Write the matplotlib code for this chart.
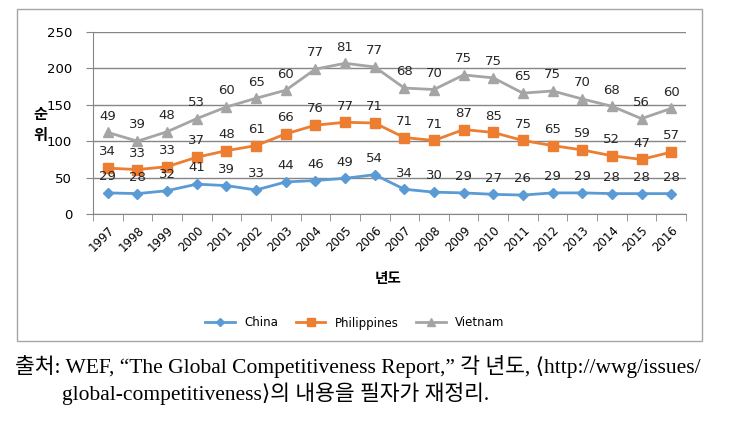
import numpy as np
import matplotlib
matplotlib.use('Agg')
import matplotlib.pyplot as plt
from matplotlib.patches import Rectangle

years = [str(y) for y in range(1997, 2017)]
china = [29, 28, 32, 41, 39, 33, 44, 46, 49, 54, 34, 30, 29, 27, 26, 29, 29, 28, 28, 28]
philippines = [34, 33, 33, 37, 48, 61, 66, 76, 77, 71, 71, 71, 87, 85, 75, 65, 59, 52, 47, 57]
vietnam = [49, 39, 48, 53, 60, 65, 60, 77, 81, 77, 68, 70, 75, 75, 65, 75, 70, 68, 56, 60]

plt.rcParams['font.family'] = ['DejaVu Sans', 'Noto Sans CJK KR']

fig = plt.figure(figsize=(7.35, 4.22), dpi=100)
fig.patches.append(Rectangle((17 / 735, 1 - 341 / 422), 685 / 735, 332 / 422,
                             transform=fig.transFigure, fill=False,
                             edgecolor='#a6a6a6', linewidth=1))

ax = fig.add_axes([93 / 735, 1 - 214 / 422, 593 / 735, 182 / 422])

x = np.arange(len(years))
s1 = np.array(china)
s2 = s1 + np.array(philippines)
s3 = s2 + np.array(vietnam)

series = [
    ('China', china, s1, '#5b9bd5', 'D', 5),
    ('Philippines', philippines, s2, '#ed7d31', 's', 7),
    ('Vietnam', vietnam, s3, '#a5a5a5', '^', 7),
]
for name, vals, ys, col, mk, ms in series:
    ax.plot(x, ys, color=col, marker=mk, markersize=ms, linewidth=2, label=name, zorder=3)
    for xi, yi, v in zip(x, ys, vals):
        ax.annotate(str(v), (xi, yi), xytext=(0, 7), textcoords='offset points',
                    ha='center', va='bottom', fontsize=9.5, color='#262626', zorder=4)

ax.set_xlim(-0.5, len(years) - 0.5)
ax.set_ylim(0, 250)
ax.set_yticks(range(0, 251, 50))
ax.yaxis.grid(True, color='#868686', linewidth=1)
ax.set_axisbelow(True)
ax.set_xticks(x)
ax.set_xticklabels(years, rotation=45, ha='right', rotation_mode='anchor', fontsize=8.5)
ax.set_xticks(np.arange(-0.5, len(years), 1), minor=True)
ax.tick_params(axis='x', which='major', length=0, pad=7)
ax.tick_params(axis='x', which='minor', length=5, color='#868686')
ax.tick_params(axis='y', length=5, color='#868686', labelsize=9.5, pad=10)
for sp in ['top', 'right']:
    ax.spines[sp].set_visible(False)
for sp in ['left', 'bottom']:
    ax.spines[sp].set_color('#868686')

fig.text(40 / 735, 1 - 125 / 422, '순\n위', ha='center', va='center',
         fontsize=11, fontweight='bold', linespacing=1.5)
fig.text(388 / 735, 1 - 278 / 422, '년도', ha='center', va='center',
         fontsize=10.5, fontweight='bold')

fig.legend(loc='center', bbox_to_anchor=(355 / 735, 1 - 323 / 422), ncol=3,
           frameon=False, fontsize=8.5, handlelength=2.5, columnspacing=1.5,
           markerscale=0.8)

serif = ['Liberation Serif', 'Noto Sans CJK KR', 'DejaVu Sans']
fig.text(15 / 735, 1 - 367 / 422,
         '출처: WEF, “The Global Competitiveness Report,” 각 년도, ⟨http://wwg/issues/',
         ha='left', va='center', fontsize=15.5, family=serif)
fig.text(62 / 735, 1 - 394 / 422,
         'global-competitiveness⟩의 내용을 필자가 재정리.',
         ha='left', va='center', fontsize=15.5, family=serif)

fig.savefig('out.png', dpi=100)
